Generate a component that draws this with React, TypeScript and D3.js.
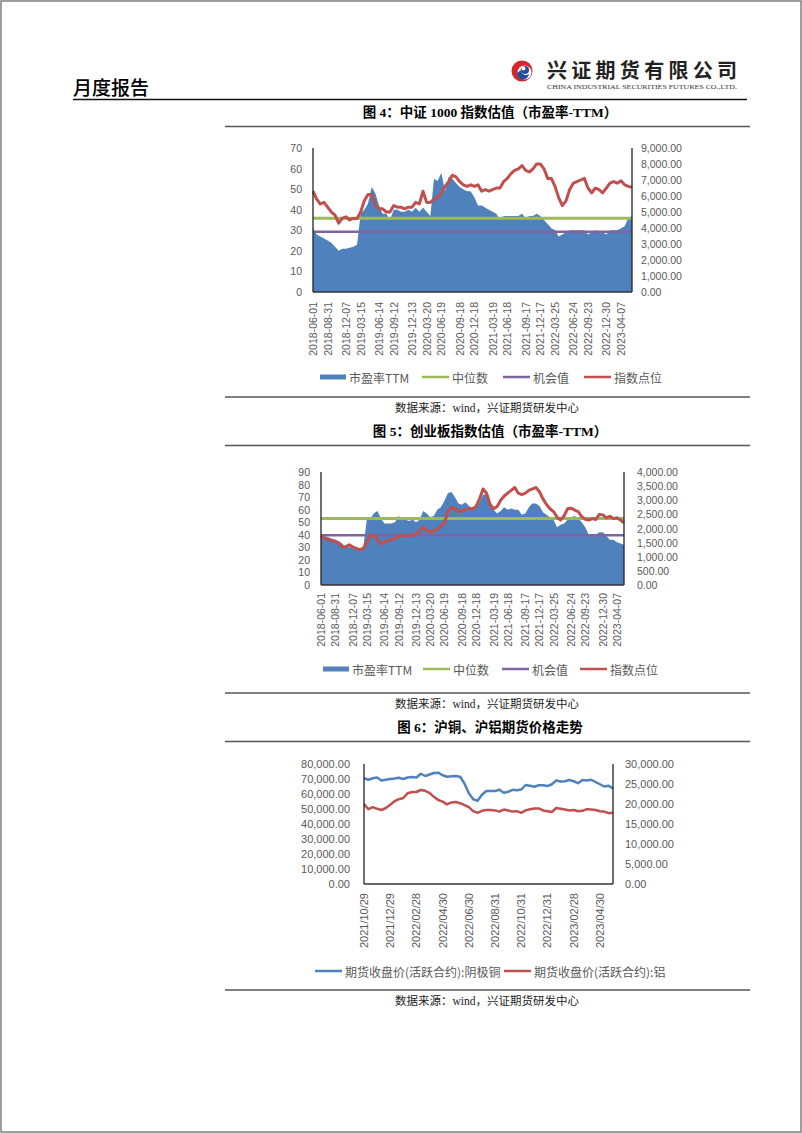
import React from 'react';
import * as d3 from 'd3';

// ---------- Chart 1: 中证1000 ----------
const csiTickLabels = ['2018-06-01','2018-08-31','2018-12-07','2019-03-15','2019-06-14','2019-09-12','2019-12-13','2020-03-20','2020-06-19','2020-09-18','2020-12-18','2021-03-19','2021-06-18','2021-09-17','2021-12-17','2022-03-25','2022-06-24','2022-09-23','2022-12-30','2023-04-07'];
const csiTickIdx = [0,4,9,13,18,22,27,31,35,40,44,49,53,58,62,66,71,75,80,84];
const csi1000PE = [31,28,27,26,25,24,22,20,21,21,21.5,22,23,38,40,43,51,48,42,38,38,35,40,40,39,39,40,39,41,39,41,39,37,55,54,58,49,56,55,53,51,50,49,49,46,42,42,41,40,39,38,35,37,37,37,37,37,38,36,37,37,38,37,35,33,31,30,27,28,29,30,30,30,30,30,28,29,30,29,29,28,30,30,30,31,32,36,37];
const csi1000Index = [6300,5800,5500,5600,5300,5000,4800,4300,4600,4700,4500,4600,4600,5000,5700,6100,6100,5400,5200,5200,5000,5000,5400,5300,5300,5200,5300,5300,5600,5500,6300,5600,5600,5800,5900,6200,6600,6900,7300,7200,6900,6700,6600,6700,6600,6700,6300,6400,6300,6400,6500,6500,6900,7100,7400,7600,7700,7900,7600,7500,7700,8000,8000,7700,7100,7100,6600,5900,5400,5700,6400,6800,6900,7000,7100,6500,6200,6500,6400,6200,6500,6800,6900,6800,6950,6700,6600,6550];
const csi1000Median = 35.8;
const csi1000Opportunity = 29.3;

// ---------- Chart 2: 创业板 ----------
const gemTickLabels = csiTickLabels;
const gemTickIdx = [0,4,9,13,18,22,27,31,35,40,44,49,53,58,62,66,71,75,80,84];
const gemPE = [41,39,38,37,36,35,33,30,30,30,29,29,30,52,53,57,59,53,49,49,49,50,55,53,52,51,52,50,52,59,57,54,55,60,62,67,73,74,70,65,64,66,63,61,62,66,72,72,66,60,57,59,62,60,61,60,60,56,57,62,65,65,63,58,56,54,52,46,48,49,52,54,55,53,50,46,40,40,40,42,42,39,36,36,34,33,32];
const gemIndex = [1750,1650,1620,1580,1550,1480,1350,1350,1420,1350,1300,1250,1300,1500,1750,1760,1600,1450,1520,1580,1600,1650,1720,1750,1750,1740,1760,1820,1900,2050,1950,1880,1900,1980,2080,2180,2600,2750,2700,2600,2620,2650,2700,2700,2780,3050,3400,3250,2850,2700,2780,3000,3150,3250,3350,3450,3250,3200,3250,3350,3400,3450,3300,3050,2850,2700,2600,2400,2300,2450,2700,2720,2650,2600,2420,2330,2300,2350,2320,2500,2480,2380,2430,2350,2380,2300,2200];
const gemMedian = 52.9;
const gemOpportunity = 39.7;

// ---------- Chart 3: 沪铜、沪铝 ----------
const metalTickLabels = ['2021/10/29','2021/12/29','2022/02/28','2022/04/30','2022/06/30','2022/08/31','2022/10/31','2022/12/31','2023/02/28','2023/04/30'];
const metalTickIdx = [0,6,12,18,24,30,36,42,48,54];
const copperClose = [70500,69500,70500,71000,69000,69500,70000,70300,70800,70000,71000,71300,71000,73500,72000,73000,74000,74200,72500,71500,71800,72000,71500,67000,60500,56500,55500,59500,62000,62000,62000,62800,60800,61500,62800,62500,63000,66000,65500,64800,65800,65800,65300,66500,69000,68300,68500,69300,68500,67200,69300,69000,69500,68000,66500,65000,65500,63800];
const aluminiumClose = [20000,18700,19200,18800,18500,19000,19800,20700,21200,21500,22700,23000,23000,23500,23300,22800,21800,21000,20600,19900,20400,20500,20200,19700,19200,18200,17800,18300,18500,18500,18400,18100,18600,18400,18100,18200,17800,18400,18700,18900,18900,18400,18200,18000,19000,18800,18600,18400,18500,18200,18300,18700,18600,18500,18200,18100,17700,17800];

const BLUE = '#4F81BD';
const RED = '#C0504D';
const GREEN = '#9BBB59';
const PURPLE = '#8064A2';
const GRAY = '#595959';
const NUM_FONT = '"Liberation Sans", Arial, sans-serif';
const CJK_FONT = '"Noto Sans CJK SC", sans-serif';
const SERIF_FONT = '"Liberation Serif", "Noto Sans CJK SC", serif';

type LineSpec = { values: number[]; color: string; width: number };
type HLine = { value: number; color: string; width: number };
type LegendItem = { label: string; color: string; kind: 'rect' | 'line'; x: number; tx: number };

type ChartProps = {
  x0: number; x1: number; yBottom: number; yTop: number;
  leftMax: number; leftStep: number; leftFmt: (v: number) => string; leftLabelX: number;
  rightMax: number; rightStep: number; rightFmt: (v: number) => string; rightLabelX: number;
  n: number;
  area?: number[];
  hLines?: HLine[];
  leftLines?: LineSpec[];
  rightLines?: LineSpec[];
  tickIdx: number[]; tickLabels: string[]; xLabelTop: number; fontSize: number; xFontSize: number;
  legend: LegendItem[]; legendY: number;
};

function DualChart(p: ChartProps) {
  const x = d3.scaleLinear().domain([0, p.n - 1]).range([p.x0, p.x1]);
  const yl = d3.scaleLinear().domain([0, p.leftMax]).range([p.yBottom, p.yTop]);
  const yr = d3.scaleLinear().domain([0, p.rightMax]).range([p.yBottom, p.yTop]);
  const leftTicks = d3.range(0, p.leftMax + 1e-6, p.leftStep);
  const rightTicks = d3.range(0, p.rightMax + 1e-6, p.rightStep);
  const areaGen = d3.area<number>().x((_, i) => x(i)).y0(yl(0)).y1((d) => yl(d));
  const lineL = d3.line<number>().x((_, i) => x(i)).y((d) => yl(d));
  const lineR = d3.line<number>().x((_, i) => x(i)).y((d) => yr(d));
  return (
    <g>
      {p.area && <path d={areaGen(p.area) || ''} fill={BLUE} />}
      {(p.hLines || []).map((h, i) => (
        <line key={'h' + i} x1={x(0)} x2={x(p.n - 1)} y1={yl(h.value)} y2={yl(h.value)} stroke={h.color} strokeWidth={h.width} />
      ))}
      {(p.leftLines || []).map((l, i) => (
        <path key={'l' + i} d={lineL(l.values) || ''} fill="none" stroke={l.color} strokeWidth={l.width} strokeLinejoin="round" />
      ))}
      {(p.rightLines || []).map((l, i) => (
        <path key={'r' + i} d={lineR(l.values) || ''} fill="none" stroke={l.color} strokeWidth={l.width} strokeLinejoin="round" />
      ))}
      <line x1={p.x0} x2={p.x0} y1={p.yTop} y2={p.yBottom} stroke="#222" strokeWidth={1.3} />
      <line x1={p.x1} x2={p.x1} y1={p.yTop} y2={p.yBottom} stroke="#222" strokeWidth={1.3} />
      <line x1={p.x0} x2={p.x1} y1={p.yBottom} y2={p.yBottom} stroke="#333" strokeWidth={1.3} />
      {leftTicks.map((t) => (
        <text key={'lt' + t} x={p.leftLabelX} y={yl(t)} textAnchor="end" dominantBaseline="central" fontFamily={NUM_FONT} fontSize={p.fontSize} fill={GRAY}>{p.leftFmt(t)}</text>
      ))}
      {rightTicks.map((t) => (
        <text key={'rt' + t} x={p.rightLabelX} y={yr(t)} textAnchor="start" dominantBaseline="central" fontFamily={NUM_FONT} fontSize={p.fontSize} fill={GRAY}>{p.rightFmt(t)}</text>
      ))}
      {p.tickIdx.map((ti, k) => (
        <text key={'xt' + k} transform={`translate(${x(ti)},${p.xLabelTop}) rotate(-90)`} textAnchor="end" dominantBaseline="central" fontFamily={NUM_FONT} fontSize={p.xFontSize} fill={GRAY}>{p.tickLabels[k]}</text>
      ))}
      {p.legend.map((it, k) => (
        <g key={'lg' + k}>
          {it.kind === 'rect'
            ? <rect x={it.x} y={p.legendY - 2.5} width={26} height={5} fill={it.color} />
            : <line x1={it.x} x2={it.x + 27} y1={p.legendY} y2={p.legendY} stroke={it.color} strokeWidth={2.5} />}
          <text x={it.tx} y={p.legendY} dominantBaseline="central" fontFamily={CJK_FONT} fontSize={12} fill={GRAY}>{it.label}</text>
        </g>
      ))}
    </g>
  );
}

function Title({ y, text }: { y: number; text: string }) {
  return (
    <g>
      <text x={490} y={y} textAnchor="middle" fontFamily={SERIF_FONT} fontWeight="bold" fontSize={13.5} fill="#000">{text}</text>
      <line x1={225} x2={750} y1={y + 10} y2={y + 10} stroke="#555" strokeWidth={1.3} />
    </g>
  );
}

function Source({ y, lineY }: { y: number; lineY: number }) {
  return (
    <g>
      <line x1={225} x2={750} y1={lineY} y2={lineY} stroke="#555" strokeWidth={1.3} />
      <text x={487} y={y} textAnchor="middle" dominantBaseline="central" fontFamily={SERIF_FONT} fontSize={11.5} fill="#222">数据来源：wind，兴证期货研发中心</text>
    </g>
  );
}

const fmtInt = d3.format('d');
const fmt2 = d3.format(',.2f');

export default function App() {
  return (
    <div style={{ position: 'absolute', left: 0, top: 0 }}>
      <svg width={802} height={1133} style={{ display: 'block' }}>
        <rect x={0} y={0} width={802} height={1133} fill="#fff" />
        <rect x={1} y={1} width={800} height={1131} fill="none" stroke="#7f7f7f" strokeWidth={1.5} />

        {/* header */}
        <text x={73} y={95} fontFamily={CJK_FONT} fontWeight={500} fontSize={19} fill="#000">月度报告</text>
        <line x1={73} x2={747} y1={99.5} y2={99.5} stroke="#111" strokeWidth={1.5} />
        <g>
          <circle cx={522} cy={71} r={10.5} fill="#D4262C" />
          <circle cx={524.5} cy={72.5} r={7} fill="#fff" />
          <path d="M517,73 A6,6 0 0 0 529,74 A5,5 0 0 1 521,70 Z" fill="#1F4E9C" />
          <circle cx={525} cy={70} r={4} fill="#1F4E9C" />
          <circle cx={523.5} cy={68.5} r={2} fill="#fff" />
        </g>
        <text x={547} y={78} fontFamily={CJK_FONT} fontWeight="bold" fontSize={20} fill="#222" textLength={190} lengthAdjust="spacing">兴证期货有限公司</text>
        <text x={547} y={89} fontFamily={SERIF_FONT} fontSize={6.5} fill="#333" textLength={190} lengthAdjust="spacingAndGlyphs">CHINA INDUSTRIAL SECURITIES FUTURES CO.,LTD.</text>

        {/* Chart 1 */}
        <Title y={116.5} text="图 4：中证 1000 指数估值（市盈率-TTM）" />
        <DualChart
          x0={313} x1={632} yBottom={292} yTop={148}
          leftMax={70} leftStep={10} leftFmt={fmtInt} leftLabelX={302}
          rightMax={9000} rightStep={1000} rightFmt={fmt2} rightLabelX={641}
          n={csi1000PE.length}
          area={csi1000PE}
          hLines={[{ value: csi1000Median, color: GREEN, width: 3 }, { value: csi1000Opportunity, color: PURPLE, width: 2.5 }]}
          rightLines={[{ values: csi1000Index, color: RED, width: 3 }]}
          tickIdx={csiTickIdx} tickLabels={csiTickLabels} xLabelTop={302} fontSize={10.5} xFontSize={10.5}
          legend={[
            { label: '市盈率TTM', color: BLUE, kind: 'rect', x: 320, tx: 349 },
            { label: '中位数', color: GREEN, kind: 'line', x: 422, tx: 452 },
            { label: '机会值', color: PURPLE, kind: 'line', x: 503, tx: 533 },
            { label: '指数点位', color: RED, kind: 'line', x: 584, tx: 614 },
          ]}
          legendY={377}
        />
        <Source lineY={397} y={408} />

        {/* Chart 2 */}
        <Title y={435.5} text="图 5：创业板指数估值（市盈率-TTM）" />
        <DualChart
          x0={321} x1={624} yBottom={585} yTop={472}
          leftMax={90} leftStep={10} leftFmt={fmtInt} leftLabelX={310}
          rightMax={4000} rightStep={500} rightFmt={fmt2} rightLabelX={637}
          n={gemPE.length}
          area={gemPE}
          hLines={[{ value: gemMedian, color: GREEN, width: 3 }, { value: gemOpportunity, color: PURPLE, width: 2.5 }]}
          rightLines={[{ values: gemIndex, color: RED, width: 3 }]}
          tickIdx={gemTickIdx} tickLabels={gemTickLabels} xLabelTop={593} fontSize={10.5} xFontSize={10.5}
          legend={[
            { label: '市盈率TTM', color: BLUE, kind: 'rect', x: 323, tx: 352 },
            { label: '中位数', color: GREEN, kind: 'line', x: 423, tx: 453 },
            { label: '机会值', color: PURPLE, kind: 'line', x: 502, tx: 532 },
            { label: '指数点位', color: RED, kind: 'line', x: 580, tx: 610 },
          ]}
          legendY={669}
        />
        <Source lineY={693} y={704} />

        {/* Chart 3 */}
        <Title y={731.5} text="图 6：沪铜、沪铝期货价格走势" />
        <DualChart
          x0={364} x1={613} yBottom={884} yTop={764}
          leftMax={80000} leftStep={10000} leftFmt={fmt2} leftLabelX={350}
          rightMax={30000} rightStep={5000} rightFmt={fmt2} rightLabelX={625}
          n={copperClose.length}
          leftLines={[{ values: copperClose, color: BLUE, width: 2.5 }]}
          rightLines={[{ values: aluminiumClose, color: RED, width: 2.5 }]}
          tickIdx={metalTickIdx} tickLabels={metalTickLabels} xLabelTop={893} fontSize={11} xFontSize={11}
          legend={[
            { label: '期货收盘价(活跃合约):阴极铜', color: BLUE, kind: 'line', x: 315, tx: 345 },
            { label: '期货收盘价(活跃合约):铝', color: RED, kind: 'line', x: 504, tx: 534 },
          ]}
          legendY={971}
        />
        <Source lineY={990} y={1001} />
      </svg>
    </div>
  );
}
